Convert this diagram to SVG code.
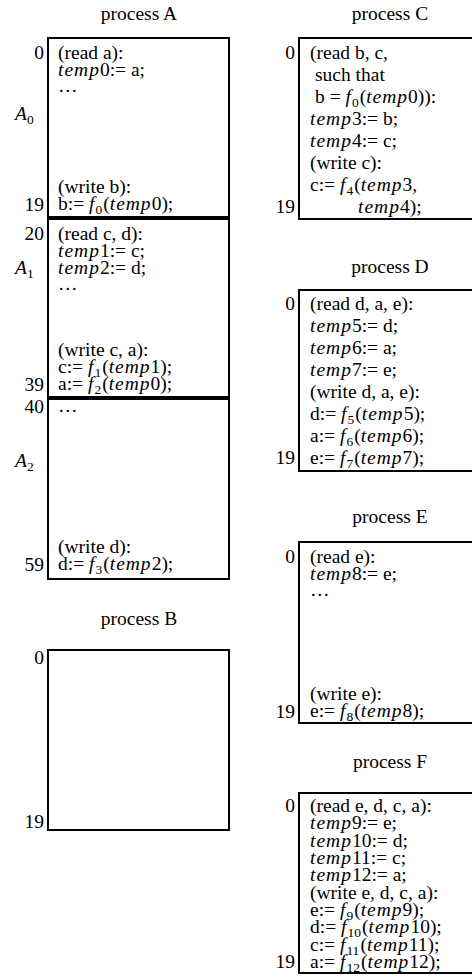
<svg xmlns="http://www.w3.org/2000/svg" width="472" height="977" viewBox="0 0 472 977">
  <style>
    text { font-family: "Liberation Serif", "Times New Roman", serif; font-size: 19.5px; fill: #000; }
    .t { text-anchor: middle; }
    .n { text-anchor: end; }
    .i { font-style: italic; }
    .v { font-style: italic; letter-spacing: 1px; }
    .s { font-size: 13.5px; }
    .box { fill: #fff; stroke: #000; stroke-width: 2; }
    .div { stroke: #000; stroke-width: 4; }
  </style>

  <!-- process A: three 20-step sections -->
  <g id="processA">
    <text class="t" x="139" y="20">process A</text>
    <rect class="box" x="48" y="38" width="181" height="541"/>
    <line class="div" x1="47" y1="218" x2="230" y2="218"/>
    <line class="div" x1="47" y1="398" x2="230" y2="398"/>

    <text class="n" x="44" y="59">0</text>
    <text x="15" y="120"><tspan class="i">A</tspan><tspan class="s" dy="4">0</tspan></text>
    <text class="n" x="44" y="211">19</text>
    <text x="58" y="59">(read a):</text>
    <text x="58" y="76"><tspan class="v">temp</tspan>0:= a;</text>
    <text x="58" y="92">…</text>
    <text x="58" y="193">(write b):</text>
    <text x="58" y="210">b:= <tspan class="i">f</tspan><tspan class="s" dx="1" dy="4">0</tspan><tspan dx="1" dy="-4">(</tspan><tspan class="v">temp</tspan>0);</text>

    <text class="n" x="44" y="240">20</text>
    <text x="15" y="274"><tspan class="i">A</tspan><tspan class="s" dy="4">1</tspan></text>
    <text class="n" x="44" y="391">39</text>
    <text x="58" y="240">(read c, d):</text>
    <text x="58" y="257"><tspan class="v">temp</tspan>1:= c;</text>
    <text x="58" y="274"><tspan class="v">temp</tspan>2:= d;</text>
    <text x="58" y="290">…</text>
    <text x="58" y="356">(write c, a):</text>
    <text x="58" y="373">c:= <tspan class="i">f</tspan><tspan class="s" dx="1" dy="4">1</tspan><tspan dx="1" dy="-4">(</tspan><tspan class="v">temp</tspan>1);</text>
    <text x="58" y="390">a:= <tspan class="i">f</tspan><tspan class="s" dx="1" dy="4">2</tspan><tspan dx="1" dy="-4">(</tspan><tspan class="v">temp</tspan>0);</text>

    <text class="n" x="44" y="413">40</text>
    <text x="15" y="467"><tspan class="i">A</tspan><tspan class="s" dy="4">2</tspan></text>
    <text class="n" x="44" y="571">59</text>
    <text x="58" y="412">…</text>
    <text x="58" y="553">(write d):</text>
    <text x="58" y="570">d:= <tspan class="i">f</tspan><tspan class="s" dx="1" dy="4">3</tspan><tspan dx="1" dy="-4">(</tspan><tspan class="v">temp</tspan>2);</text>
  </g>

  <!-- process B: empty schedule -->
  <g id="processB">
    <text class="t" x="139" y="625">process B</text>
    <rect class="box" x="48" y="650" width="181" height="180"/>
    <text class="n" x="44" y="664">0</text>
    <text class="n" x="44" y="828">19</text>
  </g>

  <!-- process C -->
  <g id="processC">
    <text class="t" x="390" y="20">process C</text>
    <rect class="box" x="299" y="38" width="200" height="181"/>
    <text class="n" x="295" y="59">0</text>
    <text class="n" x="295" y="213">19</text>
    <text x="310" y="59">(read b, c,</text>
    <text x="315" y="81">such that</text>
    <text x="315" y="103">b = <tspan class="i">f</tspan><tspan class="s" dx="1" dy="4">0</tspan><tspan dx="1" dy="-4">(</tspan><tspan class="v">temp</tspan>0)):</text>
    <text x="310" y="125"><tspan class="v">temp</tspan>3:= b;</text>
    <text x="310" y="147"><tspan class="v">temp</tspan>4:= c;</text>
    <text x="310" y="169">(write c):</text>
    <text x="310" y="191">c:= <tspan class="i">f</tspan><tspan class="s" dx="1" dy="4">4</tspan><tspan dx="1" dy="-4">(</tspan><tspan class="v">temp</tspan>3,</text>
    <text x="358" y="213"><tspan class="v">temp</tspan>4);</text>
  </g>

  <!-- process D -->
  <g id="processD">
    <text class="t" x="390" y="273">process D</text>
    <rect class="box" x="299" y="290" width="200" height="181"/>
    <text class="n" x="295" y="310">0</text>
    <text class="n" x="295" y="464">19</text>
    <text x="310" y="310">(read d, a, e):</text>
    <text x="310" y="332"><tspan class="v">temp</tspan>5:= d;</text>
    <text x="310" y="354"><tspan class="v">temp</tspan>6:= a;</text>
    <text x="310" y="376"><tspan class="v">temp</tspan>7:= e;</text>
    <text x="310" y="398">(write d, a, e):</text>
    <text x="310" y="420">d:= <tspan class="i">f</tspan><tspan class="s" dx="1" dy="4">5</tspan><tspan dx="1" dy="-4">(</tspan><tspan class="v">temp</tspan>5);</text>
    <text x="310" y="442">a:= <tspan class="i">f</tspan><tspan class="s" dx="1" dy="4">6</tspan><tspan dx="1" dy="-4">(</tspan><tspan class="v">temp</tspan>6);</text>
    <text x="310" y="464">e:= <tspan class="i">f</tspan><tspan class="s" dx="1" dy="4">7</tspan><tspan dx="1" dy="-4">(</tspan><tspan class="v">temp</tspan>7);</text>
  </g>

  <!-- process E -->
  <g id="processE">
    <text class="t" x="390" y="523">process E</text>
    <rect class="box" x="299" y="542" width="200" height="181"/>
    <text class="n" x="295" y="563">0</text>
    <text class="n" x="295" y="718">19</text>
    <text x="310" y="563">(read e):</text>
    <text x="310" y="580"><tspan class="v">temp</tspan>8:= e;</text>
    <text x="310" y="596">…</text>
    <text x="310" y="700">(write e):</text>
    <text x="310" y="717">e:= <tspan class="i">f</tspan><tspan class="s" dx="1" dy="4">8</tspan><tspan dx="1" dy="-4">(</tspan><tspan class="v">temp</tspan>8);</text>
  </g>

  <!-- process F -->
  <g id="processF">
    <text class="t" x="390" y="768">process F</text>
    <rect class="box" x="299" y="793" width="200" height="180"/>
    <text class="n" x="295" y="812">0</text>
    <text class="n" x="295" y="968">19</text>
    <text x="310" y="812">(read e, d, c, a):</text>
    <text x="310" y="829"><tspan class="v">temp</tspan>9:= e;</text>
    <text x="310" y="847"><tspan class="v">temp</tspan>10:= d;</text>
    <text x="310" y="864"><tspan class="v">temp</tspan>11:= c;</text>
    <text x="310" y="881"><tspan class="v">temp</tspan>12:= a;</text>
    <text x="310" y="899">(write e, d, c, a):</text>
    <text x="310" y="916">e:= <tspan class="i">f</tspan><tspan class="s" dx="1" dy="4">9</tspan><tspan dx="1" dy="-4">(</tspan><tspan class="v">temp</tspan>9);</text>
    <text x="310" y="933">d:= <tspan class="i">f</tspan><tspan class="s" dx="1" dy="4">10</tspan><tspan dx="1" dy="-4">(</tspan><tspan class="v">temp</tspan>10);</text>
    <text x="310" y="951">c:= <tspan class="i">f</tspan><tspan class="s" dx="1" dy="4">11</tspan><tspan dx="1" dy="-4">(</tspan><tspan class="v">temp</tspan>11);</text>
    <text x="310" y="968">a:= <tspan class="i">f</tspan><tspan class="s" dx="1" dy="4">12</tspan><tspan dx="1" dy="-4">(</tspan><tspan class="v">temp</tspan>12);</text>
  </g>
</svg>
